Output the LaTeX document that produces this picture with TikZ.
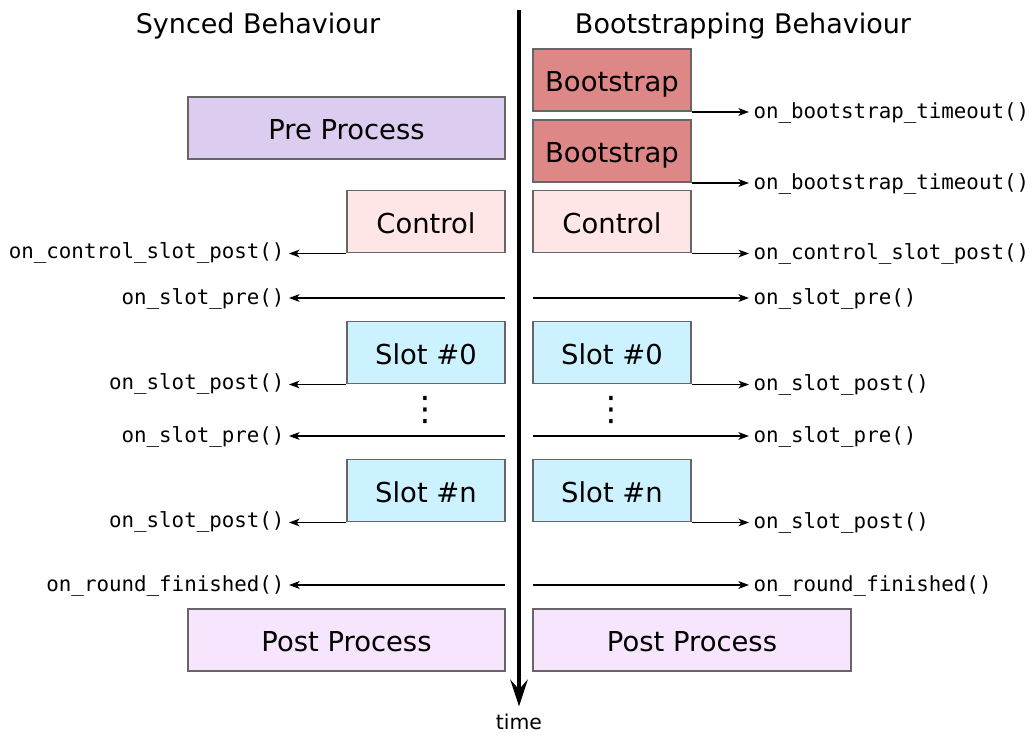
\documentclass[tikz,border=0pt]{standalone}
\usepackage{fontspec}
\setmainfont{DejaVu Sans}
\setmonofont{DejaVu Sans Mono}
\usepackage{tikz}
\usetikzlibrary{positioning,arrows,arrows.meta,shapes}

\definecolor{preproc}{RGB}{220,205,240}
\definecolor{bootcol}{RGB}{222,135,135}
\definecolor{ctrlcol}{RGB}{255,230,230}
\definecolor{slotcol}{RGB}{204,242,255}
\definecolor{postproc}{RGB}{246,229,252}

\tikzset{
    phase/.style={draw=black!60, line width=1.4pt, minimum width=3.95cm, minimum height=1.55cm,
        inner sep=0pt, text height=17pt, text depth=0pt, font=\fontsize{19.5}{22}\selectfont},
    widephase/.style={phase, minimum width=7.925cm},
    hook/.style={anchor=west, inner xsep=3pt, inner ysep=0pt, text height=9pt, text depth=0pt,
        font=\ttfamily\fontsize{14.8}{16}\selectfont},
    hookl/.style={hook, anchor=east},
    call/.style={-{Stealth[length=7.5pt,width=5.5pt,inset=2pt]}, line width=0.9pt},
    heading/.style={font=\fontsize{19.2}{22}\selectfont}
}

\begin{document}
\begin{tikzpicture}[x=0.025cm,y=-0.025cm]
            \useasboundingbox (0,0) rectangle (1034,736);

            % time axis
            \coordinate (top) at (519,10);
            \node[font=\fontsize{14.5}{16}\selectfont] (time) at (519,722) {time};
            \draw[-{Stealth[length=19pt,width=12.5pt,inset=7pt]}, line width=2.8pt] (top) -- ([yshift=2pt]time.north);

            \node[heading] (synced) at (258,26) {Synced Behaviour};
            \node[heading] (boot) at (743,26) {Bootstrapping Behaviour};

            % synced side
            \node[widephase, fill=preproc] (pre) at (346.5,128) {Pre Process};
            \node[phase, fill=ctrlcol] (ctrlL) at (426,221.5) {Control};
            \node[phase, fill=slotcol] (slot0L) at (426,352.5) {Slot \#0};
            \node[phase, fill=slotcol] (slotnL) at (426,490.5) {Slot \#n};
            \node[widephase, fill=postproc] (postL) at (346.5,640) {Post Process};
            \node[font=\fontsize{24}{26}\selectfont] (dotsL) at (425,410) {⋮};

            \node[hookl] (cpostL) at (289,252) {on\_control\_slot\_post()};
            \node[hookl] (preaL) at (289,298) {on\_slot\_pre()};
            \node[hookl] (post0L) at (289,383) {on\_slot\_post()};
            \node[hookl] (prebL) at (289,436) {on\_slot\_pre()};
            \node[hookl] (postnL) at (289,521) {on\_slot\_post()};
            \node[hookl] (roundL) at (289,585) {on\_round\_finished()};

            \coordinate (sa) at (505,298);
            \coordinate (sb) at (505,436);
            \coordinate (sr) at (505,585);
            \draw[call] (ctrlL.south west) -- (ctrlL.south west -| cpostL.east);
            \draw[call] (sa) -- (preaL.east);
            \draw[call] (slot0L.south west) -- (slot0L.south west -| post0L.east);
            \draw[call] (sb) -- (prebL.east);
            \draw[call] (slotnL.south west) -- (slotnL.south west -| postnL.east);
            \draw[call] (sr) -- (roundL.east);

            % bootstrapping side
            \node[phase, fill=bootcol] (boot1) at (612,80) {Bootstrap};
            \node[phase, fill=bootcol] (boot2) at (612,151) {Bootstrap};
            \node[phase, fill=ctrlcol] (ctrlR) at (612,221.5) {Control};
            \node[phase, fill=slotcol] (slot0R) at (612,352.5) {Slot \#0};
            \node[phase, fill=slotcol] (slotnR) at (612,490.5) {Slot \#n};
            \node[widephase, fill=postproc] (postR) at (692,640) {Post Process};
            \node[font=\fontsize{24}{26}\selectfont] (dotsR) at (611,410) {⋮};

            \node[hook] (tout1) at (749,112) {on\_bootstrap\_timeout()};
            \node[hook] (tout2) at (749,183) {on\_bootstrap\_timeout()};
            \node[hook] (cpostR) at (749,253) {on\_control\_slot\_post()};
            \node[hook] (preaR) at (749,298) {on\_slot\_pre()};
            \node[hook] (post0R) at (749,384) {on\_slot\_post()};
            \node[hook] (prebR) at (749,436) {on\_slot\_pre()};
            \node[hook] (postnR) at (749,522) {on\_slot\_post()};
            \node[hook] (roundR) at (749,585) {on\_round\_finished()};

            \coordinate (ra) at (533,298);
            \coordinate (rb) at (533,436);
            \coordinate (rr) at (533,585);
            \draw[call] (boot1.south east) -- (boot1.south east -| tout1.west);
            \draw[call] (boot2.south east) -- (boot2.south east -| tout2.west);
            \draw[call] (ctrlR.south east) -- (ctrlR.south east -| cpostR.west);
            \draw[call] (ra) -- (preaR.west);
            \draw[call] (slot0R.south east) -- (slot0R.south east -| post0R.west);
            \draw[call] (rb) -- (prebR.west);
            \draw[call] (slotnR.south east) -- (slotnR.south east -| postnR.west);
            \draw[call] (rr) -- (roundR.west);
        \end{tikzpicture}
\end{document}
